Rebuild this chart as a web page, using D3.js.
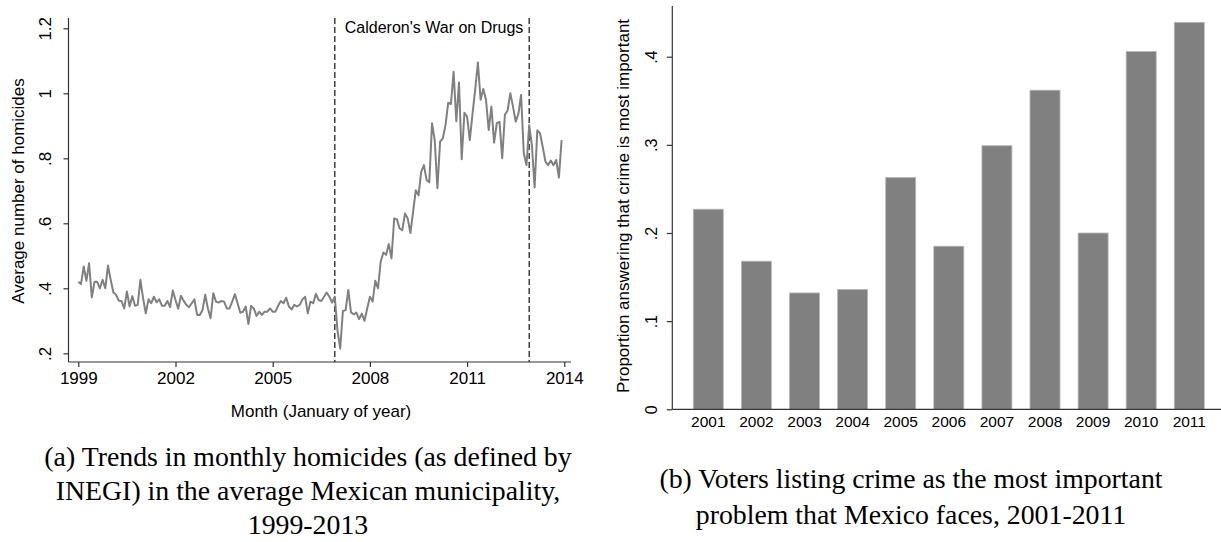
<!DOCTYPE html>
<html>
<head>
<meta charset="utf-8">
<script src="https://cdn.jsdelivr.net/npm/d3@7"></script>
<style>
  html, body { margin: 0; padding: 0; background: #fff; }
  svg { display: block; }
  .tick text { fill: #000; }
</style>
</head>
<body>
<svg id="fig" width="1221" height="542"></svg>
<script>
// ---- Panel (a): monthly homicides per municipality, Jan 1999 - Dec 2013 ----
const firstYear = 1999;
const monthlyHomicides = [
  .420,.413,.467,.423,.477,.372,.420,.420,.400,.426,.400,.470, // 1999
  .426,.387,.380,.362,.361,.338,.390,.344,.376,.346,.349,.426, // 2000
  .369,.323,.366,.354,.374,.357,.366,.346,.346,.361,.342,.393, // 2001
  .364,.337,.377,.362,.349,.342,.354,.366,.318,.318,.333,.380, // 2002
  .338,.308,.385,.359,.356,.361,.359,.338,.338,.359,.382,.354, // 2003
  .325,.328,.344,.290,.346,.338,.315,.328,.318,.328,.328,.338, // 2004
  .328,.328,.346,.361,.354,.371,.344,.335,.349,.344,.349,.366, // 2005
  .374,.323,.359,.354,.383,.364,.361,.374,.387,.374,.356,.374, // 2006
  .270,.215,.330,.333,.395,.326,.320,.325,.305,.322,.300,.338, // 2007
  .374,.359,.423,.400,.482,.510,.503,.536,.492,.615,.612,.584, // 2008
  .579,.630,.615,.570,.635,.702,.686,.758,.779,.733,.726,.908, // 2009
  .856,.708,.851,.861,.902,.971,.967,1.066,.914,1.033,.797,.940, // 2010
  .928,.856,.937,1.011,1.095,.980,1.013,.980,.887,.959,.848,.908, // 2011
  .912,.800,.934,.947,1.000,.959,.913,.937,.995,.815,.779,.902, // 2012
  .840,.710,.886,.877,.836,.790,.779,.793,.779,.795,.741,.856  // 2013
];
const yearTicksA = [1999, 2002, 2005, 2008, 2011, 2014];
const valueTicksA = [0.2, 0.4, 0.6, 0.8, 1.0, 1.2];
const warPeriod = [2006 + 11/12, 2012 + 11/12];   // Dec 2006 - Dec 2012
const warLabel = "Calderon's War on Drugs";

// ---- Panel (b): share naming crime as the most important problem ----
const surveyYears = ["2001","2002","2003","2004","2005","2006","2007","2008","2009","2010","2011"];
const crimeShare = [0.227, 0.168, 0.132, 0.136, 0.263, 0.185, 0.299, 0.362, 0.200, 0.406, 0.439];
const valueTicksB = [0, 0.1, 0.2, 0.3, 0.4];

const captionA = ["(a) Trends in monthly homicides (as defined by",
                  "INEGI) in the average Mexican municipality,",
                  "1999-2013"];
const captionB = ["(b) Voters listing crime as the most important",
                  "problem that Mexico faces, 2001-2011"];

const svg = d3.select("#fig");
svg.append("rect").attr("width", 1221).attr("height", 542).attr("fill", "#fff");

const SANS = "'Liberation Sans', Arial, sans-serif";
const SERIF = "'Liberation Serif', 'Times New Roman', serif";
const AXIS = "#333";
const stataNum = d => (d === 0 ? "0" : d3.format("~g")(d).replace(/^0\./, "."));

// ================= Panel (a) =================
const a = svg.append("g");
const xA = d3.scaleLinear().domain([1999, 2014]).range([78.3, 564.3]);
const yA = d3.scaleLinear().domain([0.2, 1.2]).range([353.3, 28.3]);
const axisYA = 362, axisXA = 68.5;

const series = monthlyHomicides.map((v, i) => ({ t: firstYear + i / 12, v }));

// axis lines
a.append("line").attr("x1", axisXA).attr("x2", 571).attr("y1", axisYA).attr("y2", axisYA)
  .attr("stroke", AXIS).attr("stroke-width", 1.2);
a.append("line").attr("x1", axisXA).attr("x2", axisXA).attr("y1", 18).attr("y2", axisYA)
  .attr("stroke", AXIS).attr("stroke-width", 1.2);

const gxA = a.append("g").attr("transform", `translate(0,${axisYA})`)
  .call(d3.axisBottom(xA).tickValues(yearTicksA).tickFormat(d3.format("d")).tickSize(5).tickPadding(5));
gxA.select(".domain").remove();
gxA.selectAll("line").attr("stroke", AXIS).attr("stroke-width", 1.2);
gxA.selectAll("text").attr("font-family", SANS).attr("font-size", 17);

const gyA = a.append("g").attr("transform", `translate(${axisXA},0)`)
  .call(d3.axisLeft(yA).tickValues(valueTicksA).tickFormat(stataNum).tickSize(5));
gyA.select(".domain").remove();
gyA.selectAll("line").attr("stroke", AXIS).attr("stroke-width", 1.2);
gyA.selectAll("text")
  .attr("font-family", SANS).attr("font-size", 17)
  .attr("text-anchor", "middle").attr("x", null).attr("dy", "0.35em")
  .attr("transform", "translate(-23.5,0) rotate(-90)");

// war period markers
warPeriod.forEach(t => {
  a.append("line").attr("x1", xA(t)).attr("x2", xA(t)).attr("y1", 18).attr("y2", axisYA)
    .attr("stroke", "#333").attr("stroke-width", 1.4).attr("stroke-dasharray", "6,3");
});
a.append("text").attr("x", xA(warPeriod[0]) + 10).attr("y", 33)
  .attr("font-family", SANS).attr("font-size", 16).text(warLabel);

// homicide series
a.append("path").datum(series)
  .attr("fill", "none").attr("stroke", "#808080").attr("stroke-width", 2)
  .attr("stroke-linejoin", "round")
  .attr("d", d3.line().x(d => xA(d.t)).y(d => yA(d.v)));

// axis titles
a.append("text").attr("transform", "translate(18.5,191) rotate(-90)")
  .attr("text-anchor", "middle").attr("dy", "0.35em")
  .attr("font-family", SANS).attr("font-size", 17).text("Average number of homicides");
a.append("text").attr("x", 321).attr("y", 417).attr("text-anchor", "middle")
  .attr("font-family", SANS).attr("font-size", 17).text("Month (January of year)");

// ================= Panel (b) =================
const b = svg.append("g");
const xB = d3.scaleBand().domain(surveyYears)
  .range([684.25, 684.25 + 11 * 48.1]).paddingInner(0.376).paddingOuter(0.188);
const yB = d3.scaleLinear().domain([0, 0.4]).range([409.3, 56.7]);
const axisYB = 409.3, axisXB = 672.3;

b.selectAll("rect.bar").data(surveyYears).join("rect").attr("class", "bar")
  .attr("x", d => xB(d)).attr("width", xB.bandwidth())
  .attr("y", (d, i) => yB(crimeShare[i]))
  .attr("height", (d, i) => yB(0) - yB(crimeShare[i]))
  .attr("fill", "#808080").attr("stroke", "#b8b8b8").attr("stroke-width", 0.8);

b.append("line").attr("x1", axisXB).attr("x2", 1221).attr("y1", axisYB).attr("y2", axisYB)
  .attr("stroke", AXIS).attr("stroke-width", 1.2);
b.append("line").attr("x1", axisXB).attr("x2", axisXB).attr("y1", 6).attr("y2", axisYB)
  .attr("stroke", AXIS).attr("stroke-width", 1.2);

const gxB = b.append("g").attr("transform", `translate(0,${axisYB})`)
  .call(d3.axisBottom(xB).tickSize(0).tickPadding(7));
gxB.select(".domain").remove();
gxB.selectAll("text").attr("font-family", SANS).attr("font-size", 15.5);

const gyB = b.append("g").attr("transform", `translate(${axisXB},0)`)
  .call(d3.axisLeft(yB).tickValues(valueTicksB).tickFormat(stataNum).tickSize(5.5));
gyB.select(".domain").remove();
gyB.selectAll("line").attr("stroke", AXIS).attr("stroke-width", 1.2);
gyB.selectAll("text")
  .attr("font-family", SANS).attr("font-size", 16)
  .attr("text-anchor", "middle").attr("x", null).attr("dy", "0.35em")
  .attr("transform", "translate(-20.6,0) rotate(-90)");

b.append("text").attr("transform", "translate(623.5,206) rotate(-90)")
  .attr("text-anchor", "middle").attr("dy", "0.35em")
  .attr("font-family", SANS).attr("font-size", 17)
  .text("Proportion answering that crime is most important");

// ================= Captions =================
const captionSize = 27.8;
const captionABase = [466, 500, 534];
const captionBBase = [488, 524];
captionA.forEach((line, i) => {
  svg.append("text").attr("x", 308).attr("y", captionABase[i]).attr("text-anchor", "middle")
    .attr("font-family", SERIF).attr("font-size", captionSize).attr("fill", "#000").text(line);
});
captionB.forEach((line, i) => {
  svg.append("text").attr("x", 911).attr("y", captionBBase[i]).attr("text-anchor", "middle")
    .attr("font-family", SERIF).attr("font-size", captionSize).attr("fill", "#000").text(line);
});
</script>
</body>
</html>
